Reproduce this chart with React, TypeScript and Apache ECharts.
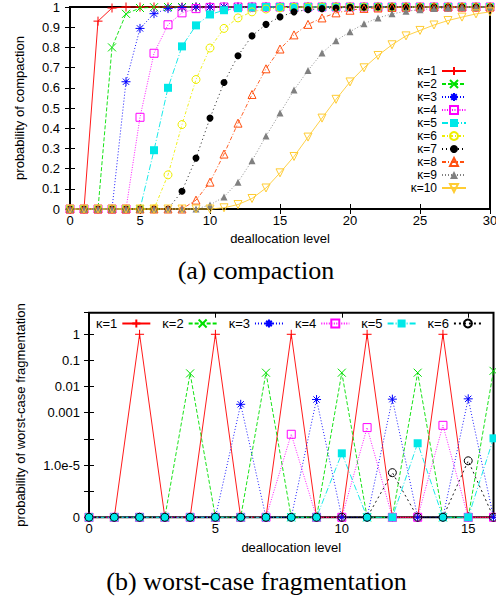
import React, { useEffect, useRef } from 'react';
import * as echarts from 'echarts';

const FONT = '"Liberation Sans", Arial, Helvetica, sans-serif';
const SERIF = '"Liberation Serif", "Times New Roman", serif';

// ---------- (a) compaction ----------
const compLevels = [0, 1, 2, 3, 4, 5, 6, 7, 8, 9, 10, 11, 12, 13, 14, 15, 16, 17, 18, 19, 20, 21, 22, 23, 24, 25, 26, 27, 28, 29, 30];
const compK1 = [0, 0, 0.93, 0.995, 1, 1, 1, 1, 1, 1, 1, 1, 1, 1, 1, 1, 1, 1, 1, 1, 1, 1, 1, 1, 1, 1, 1, 1, 1, 1, 1];
const compK2 = [0, 0, 0, 0.80, 0.966, 0.995, 0.999, 1, 1, 1, 1, 1, 1, 1, 1, 1, 1, 1, 1, 1, 1, 1, 1, 1, 1, 1, 1, 1, 1, 1, 1];
const compK3 = [0, 0, 0, 0, 0.63, 0.894, 0.967, 0.992, 0.998, 1, 1, 1, 1, 1, 1, 1, 1, 1, 1, 1, 1, 1, 1, 1, 1, 1, 1, 1, 1, 1, 1];
const compK4 = [0, 0, 0, 0, 0, 0.454, 0.771, 0.912, 0.971, 0.992, 0.998, 1, 1, 1, 1, 1, 1, 1, 1, 1, 1, 1, 1, 1, 1, 1, 1, 1, 1, 1, 1];
const compK5 = [0, 0, 0, 0, 0, 0, 0.291, 0.60, 0.805, 0.909, 0.963, 0.984, 0.994, 0.998, 1, 1, 1, 1, 1, 1, 1, 1, 1, 1, 1, 1, 1, 1, 1, 1, 1];
const compK6 = [0, 0, 0, 0, 0, 0, 0, 0.169, 0.418, 0.641, 0.797, 0.894, 0.946, 0.976, 0.99, 0.996, 0.999, 1, 1, 1, 1, 1, 1, 1, 1, 1, 1, 1, 1, 1, 1];
const compK7 = [0, 0, 0, 0, 0, 0, 0, 0, 0.088, 0.252, 0.45, 0.626, 0.759, 0.857, 0.914, 0.951, 0.976, 0.987, 0.992, 0.995, 0.998, 0.999, 1, 1, 1, 1, 1, 1, 1, 1, 1];
const compK8 = [0, 0, 0, 0, 0, 0, 0, 0, 0, 0.044, 0.133, 0.272, 0.425, 0.567, 0.694, 0.792, 0.862, 0.914, 0.946, 0.971, 0.984, 0.993, 0.995, 0.998, 0.999, 1, 1, 1, 1, 1, 1];
const compK9 = [0, 0, 0, 0, 0, 0, 0, 0, 0, 0, 0.02, 0.06, 0.133, 0.239, 0.361, 0.475, 0.589, 0.686, 0.772, 0.833, 0.878, 0.917, 0.946, 0.966, 0.979, 0.987, 0.992, 0.995, 0.997, 0.998, 0.999];
const compK10 = [0, 0, 0, 0, 0, 0, 0, 0, 0, 0, 0, 0.006, 0.022, 0.052, 0.104, 0.179, 0.26, 0.356, 0.45, 0.543, 0.629, 0.699, 0.76, 0.813, 0.857, 0.884, 0.911, 0.933, 0.95, 0.966, 0.976];
const compNames = ['κ=1', 'κ=2', 'κ=3', 'κ=4', 'κ=5', 'κ=6', 'κ=7', 'κ=8', 'κ=9', 'κ=10'];
const compSeriesValues = [compK1, compK2, compK3, compK4, compK5, compK6, compK7, compK8, compK9, compK10];

// ---------- (b) worst-case fragmentation ----------
const fragLevels = [0, 1, 2, 3, 4, 5, 6, 7, 8, 9, 10, 11, 12, 13, 14, 15, 16];
const fragK1 = [0, 0, 1, 0, 0, 1, 0, 0, 1, 0, 0, 1, 0, 0, 1, 0, 0];
const fragK2 = [0, 0, 0, 0, 0.032, 0, 0, 0.034, 0, 0, 0.034, 0, 0, 0.034, 0, 0, 0.04];
const fragK3 = [0, 0, 0, 0, 0, 0, 0.0021, 0, 0, 0.0032, 0, 0, 0.0033, 0, 0, 0.0034, 0];
const fragK4 = [0, 0, 0, 0, 0, 0, 0, 0, 0.00015, 0, 0, 0.00027, 0, 0, 0.00033, 0, 0];
const fragK5 = [0, 0, 0, 0, 0, 0, 0, 0, 0, 0, 0.000028, 0, 0, 0.000068, 0, 0, 0.000105];
const fragK6 = [0, 0, 0, 0, 0, 0, 0, 0, 0, 0, 0, 0, 0.0000051, 0, 0, 0.0000145, 0];
const fragNames = ['κ=1', 'κ=2', 'κ=3', 'κ=4', 'κ=5', 'κ=6'];
const fragSeriesValues = [fragK1, fragK2, fragK3, fragK4, fragK5, fragK6];
const fragFloor = 1e-7; // where "0" sits on the log axis
const fragYTickValues = [1, 0.1, 0.01, 0.001, 0.00001, 0];
const fragYTickLabels = ['1', '0.1', '0.01', '0.001', '1.0e-5', '0'];

// ---------- styles ----------
const PLUS = 'path://M0,5L10,5M5,0L5,10';
const CROSS = 'path://M0,0L10,10M10,0L0,10';
const STAR = 'path://M0,5L10,5M5,0L5,10M1.5,1.5L8.5,8.5M8.5,1.5L1.5,8.5';

type Sty = { color: string; dash: any; symbol: string; kind: 'stroke' | 'open' | 'fill'; size: number; rotate?: number };

const compStyles: Sty[] = [
  { color: '#ff0000', dash: 'solid', symbol: PLUS, kind: 'stroke', size: 9 },
  { color: '#00e000', dash: [4, 2], symbol: CROSS, kind: 'stroke', size: 8 },
  { color: '#0000ff', dash: [1, 2], symbol: STAR, kind: 'stroke', size: 9 },
  { color: '#ff00ff', dash: [1, 1.5], symbol: 'rect', kind: 'open', size: 8 },
  { color: '#00e8e8', dash: [6, 2, 1, 2], symbol: 'rect', kind: 'fill', size: 8 },
  { color: '#eeee00', dash: [3, 2, 1, 2], symbol: 'circle', kind: 'open', size: 8 },
  { color: '#000000', dash: [1, 3], symbol: 'circle', kind: 'fill', size: 7 },
  { color: '#ff5010', dash: [4, 2, 1, 2], symbol: 'triangle', kind: 'open', size: 8 },
  { color: '#808080', dash: [1, 2], symbol: 'triangle', kind: 'fill', size: 7 },
  { color: '#ffcc33', dash: 'solid', symbol: 'triangle', kind: 'open', size: 8, rotate: 180 },
];
const fragStyles: Sty[] = [
  compStyles[0], compStyles[1], compStyles[2], compStyles[3], compStyles[4],
  { color: '#000000', dash: [2, 3], symbol: 'circle', kind: 'open', size: 8 },
];

function itemStyleOf(s: Sty) {
  if (s.kind === 'fill') return { color: s.color, borderWidth: 0 };
  if (s.kind === 'open') return { color: 'rgba(0,0,0,0)', borderColor: s.color, borderWidth: 1 };
  return { color: s.color, borderColor: s.color, borderWidth: 1 };
}

function makeSeries(name: string, xs: number[], ys: number[], s: Sty, map?: (v: number) => number) {
  return {
    type: 'line',
    name,
    data: xs.map((x, i) => [x, map ? map(ys[i]) : ys[i]]),
    symbol: s.symbol,
    symbolSize: s.size,
    symbolRotate: s.rotate || 0,
    showAllSymbol: true,
    clip: false,
    itemStyle: itemStyleOf(s),
    lineStyle: { color: s.color, width: 0.9, type: s.dash },
    emphasis: { disabled: true },
  };
}

const tickStyle = { show: true, inside: true, length: 5, lineStyle: { color: '#000', width: 1 } };
const labelStyle = { color: '#000', fontSize: 13, fontFamily: FONT };
const nameStyle = { color: '#000', fontSize: 13, fontFamily: FONT };

const optA: any = {
  animation: false,
  textStyle: { fontFamily: FONT },
  grid: { left: 70, top: 7, width: 420, height: 202, show: true, borderColor: '#000', borderWidth: 2, backgroundColor: 'transparent', outerBoundsMode: 'none' },
  xAxis: [
    { type: 'value', min: 0, max: 30, interval: 5, position: 'bottom', name: 'deallocation level', nameLocation: 'middle', nameGap: 22, nameTextStyle: nameStyle, axisLine: { show: false }, axisTick: tickStyle, axisLabel: { ...labelStyle, margin: 5 }, splitLine: { show: false } },
    { type: 'value', min: 0, max: 30, interval: 5, position: 'top', axisLine: { show: false }, axisTick: tickStyle, axisLabel: { show: false }, splitLine: { show: false } },
  ],
  yAxis: [
    { type: 'value', min: 0, max: 1, interval: 0.1, position: 'left', name: 'probability of compaction', nameLocation: 'middle', nameGap: 44, nameTextStyle: nameStyle, axisLine: { show: false }, axisTick: tickStyle, axisLabel: { ...labelStyle, margin: 10, lineHeight: 12 }, splitLine: { show: false } },
    { type: 'value', min: 0, max: 1, interval: 0.1, position: 'right', axisLine: { show: false }, axisTick: tickStyle, axisLabel: { show: false }, splitLine: { show: false } },
  ],
  legend: {
    orient: 'vertical', align: 'right', right: 29, top: 65, padding: 0, itemGap: 1, itemWidth: 24, itemHeight: 10,
    textStyle: { color: '#000', fontSize: 12, fontFamily: FONT, lineHeight: 12 },
    data: compNames, selectedMode: false,
  },
  series: compNames.map((n, i) => makeSeries(n, compLevels, compSeriesValues[i], compStyles[i])),
  graphic: [
    { type: 'text', x: 256, y: 270, style: { text: '(a) compaction', font: `26px ${SERIF}`, fill: '#000', align: 'center', verticalAlign: 'middle' } },
  ],
};

function fragLabel(v: number) {
  const lv = Math.log10(v);
  for (let i = 0; i < fragYTickValues.length; i++) {
    const t = fragYTickValues[i] === 0 ? fragFloor : fragYTickValues[i];
    if (Math.abs(Math.log10(t) - lv) < 0.01) return fragYTickLabels[i];
  }
  return '';
}

const optB: any = {
  animation: false,
  textStyle: { fontFamily: FONT },
  grid: { left: 89, top: 22.7, width: 404.5, height: 204.6, show: true, borderColor: '#000', borderWidth: 2, backgroundColor: 'transparent', outerBoundsMode: 'none' },
  xAxis: [
    { type: 'value', min: 0, max: 16, interval: 5, position: 'bottom', name: 'deallocation level', nameLocation: 'middle', nameGap: 24, nameTextStyle: nameStyle, axisLine: { show: false }, axisTick: tickStyle, axisLabel: { ...labelStyle, margin: 5, showMaxLabel: false, formatter: (v: number) => (v % 5 === 0 ? String(v) : '') }, splitLine: { show: false } },
    { type: 'value', min: 0, max: 16, interval: 5, position: 'top', axisLine: { show: false }, axisTick: tickStyle, axisLabel: { show: false }, splitLine: { show: false } },
  ],
  yAxis: [
    { type: 'log', logBase: 10, min: fragFloor, max: 6.7, position: 'left', name: 'probability of worst-case fragmentation', nameLocation: 'middle', nameGap: 62, nameTextStyle: nameStyle, axisLine: { show: false }, axisTick: tickStyle, axisLabel: { ...labelStyle, margin: 9, formatter: fragLabel }, splitLine: { show: false } },
    { type: 'log', logBase: 10, min: fragFloor, max: 6.7, position: 'right', axisLine: { show: false }, axisTick: tickStyle, axisLabel: { show: false }, splitLine: { show: false } },
  ],
  legend: {
    orient: 'horizontal', align: 'right', left: 96, top: 27, padding: 0, itemGap: 11, itemWidth: 28, itemHeight: 10,
    textStyle: { color: '#000', fontSize: 13, fontFamily: FONT },
    data: fragNames, selectedMode: false,
  },
  series: fragNames.map((n, i) => makeSeries(n, fragLevels, fragSeriesValues[i], fragStyles[i], (v) => (v === 0 ? fragFloor : v))),
  graphic: [
    { type: 'text', x: 256.5, y: 291, style: { text: '(b) worst-case fragmentation', font: `26px ${SERIF}`, fill: '#000', align: 'center', verticalAlign: 'middle' } },
  ],
};

export default function App() {
  const topRef = useRef<HTMLDivElement>(null);
  const botRef = useRef<HTMLDivElement>(null);
  useEffect(() => {
    const c1 = echarts.init(topRef.current!, undefined, { renderer: 'svg' });
    c1.setOption(optA);
    const c2 = echarts.init(botRef.current!, undefined, { renderer: 'svg' });
    c2.setOption(optB);
    return () => {
      c1.dispose();
      c2.dispose();
    };
  }, []);
  return (
    <div style={{ position: 'absolute', left: 0, top: 0, width: 496, height: 599, background: '#fff', overflow: 'hidden' }}>
      <div ref={topRef} style={{ position: 'absolute', left: 0, top: 0, width: 496, height: 290 }} />
      <div ref={botRef} style={{ position: 'absolute', left: 0, top: 290, width: 496, height: 309 }} />
    </div>
  );
}
